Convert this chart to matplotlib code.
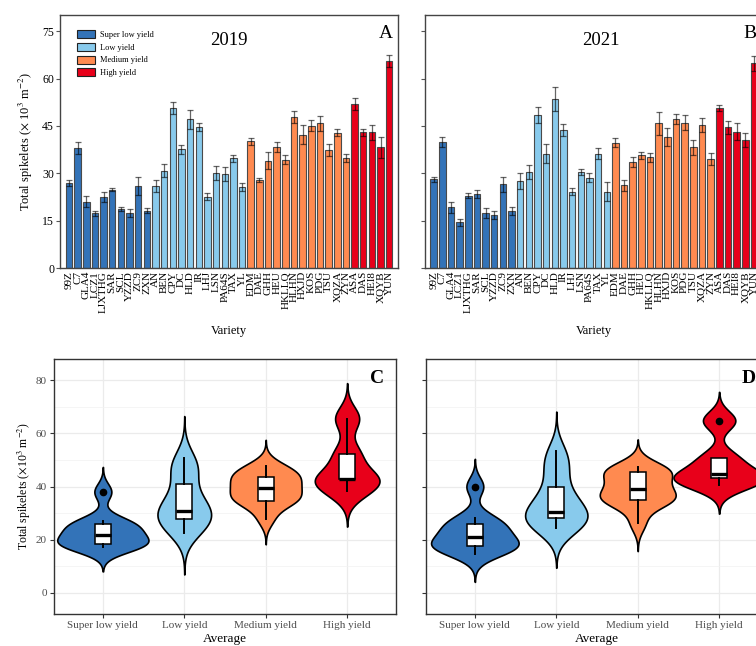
import matplotlib
matplotlib.use("Agg")
import matplotlib.pyplot as plt
from matplotlib.patches import Patch
import numpy as np

plt.rcParams['font.family'] = ['Liberation Serif', 'DejaVu Serif']
plt.rcParams['mathtext.fontset'] = 'stix'

groups = ['Super low yield', 'Low yield', 'Medium yield', 'High yield']
colors = ['#3373B8', '#88CAEC', '#FF8A50', '#E8001A']

super_low = ['99Z', 'C7', 'GLA4', 'LCZ1', 'LJXTHG', 'SAR', 'SCL', 'YZZD', 'ZC9', 'ZXN']
low = ['AN', 'BEN', 'CPY', 'DC', 'HLD', 'IR', 'LHJ', 'LSN', 'PA64S', 'TAX', 'YL']
medium = ['EDM', 'DAE', 'GHH', 'HEU', 'HKLLQ', 'HLHN', 'HXJD', 'KOS', 'PDG', 'TSU', 'XQZA', 'ZYN']
high = ['ASA', 'DAS', 'HEI8', 'XQYB', 'YUN']
varieties = super_low + low + medium + high
group_sizes = [len(super_low), len(low), len(medium), len(high)]

# total spikelets (x10^3 m^-2), mean and error per variety
spk_2019 = [26.9, 38.0, 21.1, 17.4, 22.6, 24.8, 18.8, 17.4, 26.0, 18.2,
            26.0, 30.9, 50.8, 37.6, 47.1, 44.6, 22.6, 30.2, 29.8, 34.8, 25.6,
            40.2, 27.9, 34.0, 38.4, 34.4, 47.9, 42.3, 45.1, 45.8, 37.4, 42.9, 34.8,
            52.1, 43.0, 43.0, 38.2, 65.6]
err_2019 = [0.9, 2.0, 1.7, 0.8, 1.6, 0.5, 0.7, 1.2, 2.8, 0.8,
            1.8, 2.0, 1.9, 1.3, 2.9, 1.2, 1.1, 2.3, 2.3, 1.1, 1.3,
            1.1, 0.5, 2.7, 1.6, 1.4, 1.8, 3.0, 1.8, 2.3, 1.8, 1.0, 1.3,
            1.9, 1.2, 2.3, 3.4, 2.0]
spk_2021 = [28.1, 40.0, 19.3, 14.5, 23.0, 23.5, 17.4, 16.9, 26.5, 18.1,
            27.6, 30.5, 48.5, 36.3, 53.4, 43.7, 24.2, 30.4, 28.7, 36.3, 24.2,
            39.7, 26.2, 33.5, 35.8, 35.1, 45.8, 41.6, 47.2, 46.1, 38.2, 45.3, 34.6,
            50.6, 44.6, 43.2, 40.6, 64.8]
err_2021 = [0.7, 1.6, 1.8, 1.2, 0.9, 1.3, 1.6, 1.3, 2.4, 1.2,
            2.4, 2.2, 2.4, 3.0, 3.8, 1.8, 1.1, 0.9, 1.3, 1.6, 3.0,
            1.4, 1.7, 1.6, 1.1, 1.5, 3.7, 2.9, 1.5, 2.3, 2.5, 2.3, 1.8,
            0.9, 2.1, 2.6, 2.3, 2.4]

bar_colors = []
for c, n in zip(colors, group_sizes):
    bar_colors += [c] * n

def split_groups(vals):
    out, i = [], 0
    for n in group_sizes:
        out.append(np.array(vals[i:i + n]))
        i += n
    return out

W, H = 756, 646
fig = plt.figure(figsize=(W / 100, H / 100), dpi=100)

def px_axes(left, top, right, bottom):
    return fig.add_axes([left / W, 1 - bottom / H, (right - left) / W, (bottom - top) / H])

axA = px_axes(60.3, 15.3, 398.3, 268.3)
axB = px_axes(425, 15.3, 763, 268.3)
axC = px_axes(54, 359, 396, 614)
axD = px_axes(426, 359, 768, 614)

ylab_bar = r'Total spikelets ($\times$ 10$^{3}$ m$^{-2}$)'
ylab_vio = r'Total spikelets ($\times$10$^{3}$ m$^{-2}$)'


def bar_panel(ax, vals, errs, year, tag, show_y):
    x = np.arange(len(varieties))
    ax.bar(x, vals, width=0.75, color=bar_colors, edgecolor='#4a4a4a', linewidth=0.8, zorder=2)
    ax.errorbar(x, vals, yerr=errs, fmt='none', ecolor=(0, 0, 0, 0.6),
                elinewidth=0.9, capsize=2.4, capthick=0.9, zorder=3)
    ax.set_xlim(-1.0, len(varieties) + 0.05)
    ax.set_ylim(0, 80)
    ax.set_yticks([0, 15, 30, 45, 60, 75])
    ax.set_xticks(x)
    ax.set_xticklabels(varieties, rotation=90, fontsize=8, linespacing=0.9)
    ax.tick_params(axis='x', length=0, pad=2)
    ax.tick_params(axis='y', length=3, width=0.8, pad=1.5, labelsize=8.5, color='#555555')
    if not show_y:
        ax.set_yticklabels([])
    else:
        ax.set_ylabel(ylab_bar, fontsize=9, labelpad=5)
    ax.set_xlabel('Variety', fontsize=9, labelpad=9)
    for s in ax.spines.values():
        s.set_color('#444444')
        s.set_linewidth(1.0)
    ax.text(0.5 if show_y else 0.52, 0.9, year, transform=ax.transAxes,
            ha='center', va='center', fontsize=13.5)
    ax.text(0.962, 0.93, tag, transform=ax.transAxes, ha='center', va='center', fontsize=14)


bar_panel(axA, spk_2019, err_2019, '2019', 'A', True)
bar_panel(axB, spk_2021, err_2021, '2021', 'B', False)

handles = [Patch(facecolor=c, edgecolor='#222222', linewidth=0.8) for c in colors]
axA.legend(handles, groups, loc='upper left', bbox_to_anchor=(0.049, 0.94),
           frameon=False, fontsize=6, handlelength=2.2, handleheight=1.1,
           labelspacing=0.45, handletextpad=0.6, borderaxespad=0, borderpad=0)


def nrd0(d):
    sd = np.std(d, ddof=1)
    iqr = np.subtract(*np.percentile(d, [75, 25]))
    return 0.9 * min(sd, iqr / 1.34) * len(d) ** -0.2


def violin_panel(ax, vals, tag, show_y, width=1.12):
    data = split_groups(vals)
    curves = []
    for d in data:
        bw = nrd0(d)
        y = np.linspace(d.min() - 3 * bw, d.max() + 3 * bw, 512)
        dens = np.exp(-0.5 * ((y[:, None] - d[None, :]) / bw) ** 2).sum(axis=1)
        dens /= len(d) * bw * np.sqrt(2 * np.pi)
        curves.append((y, dens))
    dmax = max(c[1].max() for c in curves)
    for i, ((y, dens), c) in enumerate(zip(curves, colors)):
        pos = i + 1
        hw = dens / dmax * width / 2
        ax.fill_betweenx(y, pos - hw, pos + hw, facecolor=c, edgecolor='black',
                         linewidth=1.2, zorder=2)
    ax.boxplot(data, positions=[1, 2, 3, 4], widths=0.2, patch_artist=True,
               boxprops=dict(facecolor='white', edgecolor='black', linewidth=1.1),
               medianprops=dict(color='black', linewidth=2.4),
               whiskerprops=dict(color='black', linewidth=1.4),
               capprops=dict(linewidth=0),
               flierprops=dict(marker='o', markerfacecolor='black', markeredgecolor='black',
                               markersize=4.5),
               zorder=3)
    ax.set_xlim(0.4, 4.6)
    ax.set_ylim(-8, 88)
    ax.set_yticks([0, 20, 40, 60, 80])
    ax.set_yticks([10, 30, 50, 70], minor=True)
    ax.set_xticks([1, 2, 3, 4])
    ax.set_xticklabels(groups)
    ax.grid(True, which='major', color='#EBEBEB', linewidth=0.9, zorder=0)
    ax.grid(True, which='minor', axis='y', color='#F2F2F2', linewidth=0.5, zorder=0)
    ax.set_axisbelow(True)
    ax.tick_params(axis='both', which='major', length=3, width=0.8, color='#333333',
                   labelcolor='#4D4D4D', labelsize=8, pad=2)
    ax.tick_params(axis='y', which='minor', length=0)
    if show_y:
        ax.set_ylabel(ylab_vio, fontsize=8.5, labelpad=2)
    else:
        ax.set_yticklabels([])
    ax.set_xlabel('Average', fontsize=9.5, labelpad=2)
    for s in ax.spines.values():
        s.set_color('#333333')
        s.set_linewidth(1.0)
    ax.text(0.944, 0.925, tag, transform=ax.transAxes, ha='center', va='center',
            fontsize=14, fontweight='bold')


violin_panel(axC, spk_2019, 'C', True)
violin_panel(axD, spk_2021, 'D', False)

fig.savefig('out.png', dpi=100)
